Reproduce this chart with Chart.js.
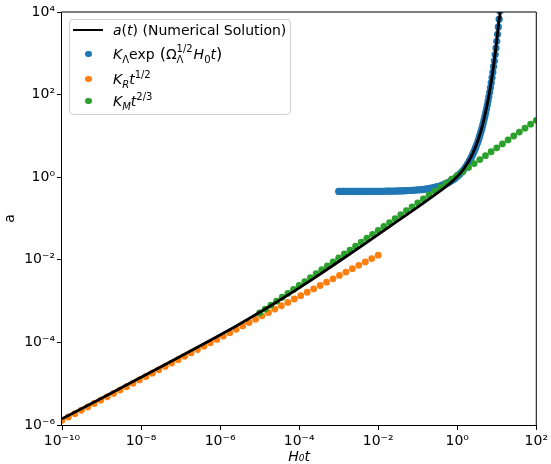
<!DOCTYPE html>
<html>
<head>
<meta charset="utf-8">
<script src="https://cdn.jsdelivr.net/npm/chart.js@4.4.1/dist/chart.umd.min.js"></script>
<style>
  html, body { margin: 0; padding: 0; background: #fff; }
  #wrap { position: relative; width: 551px; height: 464px; }
  #chart { position: absolute; left: 0; top: 0; }
  #legend {
    position: absolute; left: 69px; top: 19px; width: 222px; height: 96px;
    box-sizing: border-box; border: 1px solid #d0d0d0; border-radius: 4px;
    background: rgba(255, 255, 255, 0.8);
    font-family: "DejaVu Sans", sans-serif; font-size: 14px; color: #000;
  }
  .row { position: absolute; left: 43px; height: 20px; line-height: 20px; white-space: nowrap; }
  .dot { position: absolute; left: 15px; width: 6.6px; height: 6.6px; border-radius: 50%; }
  .sw { position: absolute; left: 3px; width: 30px; height: 2.8px; background: #000; }
  i { font-style: oblique; }
  .sb { font-size: 10px; position: relative; top: 4px; }
  .sp { font-size: 10px; position: relative; top: -6px; }
  .ss { display: inline-block; position: relative; width: 17px; height: 0; }
  .ss .a { position: absolute; left: 0; top: -16px; font-size: 10px; line-height: 12px; }
  .ss .b { position: absolute; left: 0; top: -5px; font-size: 10px; line-height: 12px; }
  .par { font-size: 16px; }
</style>
</head>
<body>
<div id="wrap">
  <canvas id="chart" width="551" height="464"></canvas>
  <div id="legend">
    <div class="sw" style="top: 8.6px;"></div>
    <div class="row" style="top: 0px;"><i>a</i>(<i>t</i>) (Numerical Solution)</div>
    <div class="dot" style="top: 30.7px; background: #1f77b4;"></div>
    <div class="row" style="top: 24px;"><i>K</i><span class="sb">Λ</span>exp<span class="par"> (</span>Ω<span class="ss"><span class="a">1/2</span><span class="b">Λ</span></span><i>H</i><span class="sb">0</span><i>t</i><span class="par">)</span></div>
    <div class="dot" style="top: 55.7px; background: #ff7f0e;"></div>
    <div class="row" style="top: 49px;"><i>K</i><span class="sb"><i>R</i></span><i>t</i><span class="sp">1/2</span></div>
    <div class="dot" style="top: 77.7px; background: #2ca02c;"></div>
    <div class="row" style="top: 71px;"><i>K</i><span class="sb"><i>M</i></span><i>t</i><span class="sp">2/3</span></div>
  </div>
</div>
<script>
// axis ticks
const xTicks = [1e-10, 1e-8, 1e-6, 1e-4, 1e-2, 1e0, 1e2];
const xTickLabels = ['10⁻¹⁰', '10⁻⁸', '10⁻⁶', '10⁻⁴', '10⁻²', '10⁰', '10²'];
const yTicks = [1e-6, 1e-4, 1e-2, 1e0, 1e2, 1e4];
const yTickLabels = ['10⁻⁶', '10⁻⁴', '10⁻²', '10⁰', '10²', '10⁴'];

// numerical solution a(t), as log10 values
const blackLogT = [-10, -9, -8.299, -7.3403, -6.2798, -5.6576, -5.2861, -4.8062, -4.4805, -4.125,
  -3.7058, -3.398, -2.949, -2.359, -1.9576, -1.5229, -1.301, -1, -0.699, -0.5229,
  -0.301, -0.1549, -0.0706, 0, 0.0969, 0.1761, 0.301, 0.3979, 0.4771, 0.5441,
  0.6021, 0.6532, 0.699, 0.7404, 0.7782, 0.8129, 0.8451, 0.8751, 0.9031, 0.9294,
  0.9542, 0.9777, 1.0, 1.0212, 1.0414, 1.0607, 1.0792];
const blackLogA = [-5.8495, -5.3495, -4.997, -4.5132, -3.9686, -3.6383, -3.4348, -3.1627, -2.9716, -2.757,
  -2.4965, -2.301, -2.011, -1.6243, -1.359, -1.0706, -0.9241, -0.7228, -0.5199, -0.3987,
  -0.2388, -0.1239, -0.0510, 0.0154, 0.1180, 0.2149, 0.4014, 0.5845, 0.7666, 0.9484,
  1.1300, 1.3117, 1.4934, 1.6751, 1.8568, 2.0385, 2.2202, 2.4018, 2.5835, 2.7652,
  2.9469, 3.1285, 3.3102, 3.4919, 3.6736, 3.8552, 4.0369];

// K_Lambda exp(...) points
const blueLogT = [-3.00, -2.95, -2.90, -2.85, -2.80, -2.75, -2.70, -2.65, -2.60, -2.55,
  -2.50, -2.45, -2.40, -2.35, -2.30, -2.25, -2.20, -2.15, -2.10, -2.05,
  -2.00, -1.95, -1.90, -1.85, -1.80, -1.75, -1.70, -1.65, -1.60, -1.55,
  -1.50, -1.45, -1.40, -1.35, -1.30, -1.25, -1.20, -1.15, -1.10, -1.05,
  -1.00, -0.95, -0.90, -0.85, -0.80, -0.75, -0.70, -0.65, -0.60, -0.55,
  -0.50, -0.46, -0.42, -0.38, -0.34, -0.30, -0.26, -0.22, -0.18, -0.14,
  -0.10, -0.06, -0.02, 0.02, 0.06, 0.10, 0.14, 0.18, 0.22, 0.26, 0.30,
  0.32, 0.34, 0.36, 0.38, 0.40, 0.42, 0.44, 0.46, 0.48, 0.50,
  0.52, 0.54, 0.56, 0.58, 0.60, 0.62, 0.64, 0.66, 0.68, 0.70,
  0.72, 0.74, 0.76, 0.78, 0.80, 0.82, 0.84, 0.86, 0.88, 0.90,
  0.92, 0.94, 0.96, 0.98, 1.00, 1.02, 1.04, 1.06, 1.08];
const blueLogA = [-0.3446, -0.3446, -0.3445, -0.3445, -0.3444, -0.3444, -0.3443, -0.3442, -0.3441, -0.3440,
  -0.3439, -0.3437, -0.3436, -0.3434, -0.3432, -0.3430, -0.3427, -0.3424, -0.3421, -0.3418,
  -0.3414, -0.3409, -0.3404, -0.3399, -0.3392, -0.3385, -0.3378, -0.3369, -0.3359, -0.3348,
  -0.3335, -0.3321, -0.3305, -0.3288, -0.3268, -0.3246, -0.3221, -0.3193, -0.3161, -0.3126,
  -0.3087, -0.3042, -0.2993, -0.2937, -0.2874, -0.2804, -0.2725, -0.2636, -0.2537, -0.2426,
  -0.2301, -0.2190, -0.2068, -0.1935, -0.1789, -0.1629, -0.1453, -0.1260, -0.1049, -0.0817,
  -0.0563, -0.0285, 0.0020, 0.0355, 0.0722, 0.1125, 0.1566, 0.2050, 0.2581, 0.3163, 0.3801,
  0.4143, 0.4500, 0.4875, 0.5267, 0.5678, 0.6108, 0.6559, 0.7031, 0.7525, 0.8042,
  0.8583, 0.9150, 0.9744, 1.0366, 1.1017, 1.1699, 1.2413, 1.3161, 1.3943, 1.4763,
  1.5621, 1.6520, 1.7461, 1.8447, 1.9479, 2.0560, 2.1691, 2.2876, 2.4117, 2.5416,
  2.6776, 2.8201, 2.9693, 3.1254, 3.2890, 3.4603, 3.6396, 3.8274, 4.0240];

// K_R t^(1/2) points
const orangeLogT = [-10, -9.8367, -9.6735, -9.5102, -9.3469, -9.1837, -9.0204, -8.8571, -8.6939, -8.5306,
  -8.3673, -8.2041, -8.0408, -7.8776, -7.7143, -7.5510, -7.3878, -7.2245, -7.0612, -6.8980,
  -6.7347, -6.5714, -6.4082, -6.2449, -6.0816, -5.9184, -5.7551, -5.5918, -5.4286, -5.2653,
  -5.1020, -4.9388, -4.7755, -4.6122, -4.4490, -4.2857, -4.1224, -3.9592, -3.7959, -3.6327,
  -3.4694, -3.3061, -3.1429, -2.9796, -2.8163, -2.6531, -2.4898, -2.3265, -2.1633, -2.0];
const orangeLogA = [-5.888, -5.8064, -5.7248, -5.6431, -5.5615, -5.4799, -5.3982, -5.3166, -5.2350, -5.1533,
  -5.0717, -4.9901, -4.9084, -4.8268, -4.7452, -4.6635, -4.5819, -4.5003, -4.4186, -4.3370,
  -4.2554, -4.1737, -4.0921, -4.0105, -3.9288, -3.8472, -3.7656, -3.6839, -3.6023, -3.5207,
  -3.4390, -3.3574, -3.2758, -3.1941, -3.1125, -3.0309, -2.9492, -2.8676, -2.7860, -2.7044,
  -2.6227, -2.5411, -2.4595, -2.3778, -2.2962, -2.2146, -2.1329, -2.0513, -1.9697, -1.888];

// K_M t^(2/3) points
const greenLogT = [-5.0, -4.8571, -4.7143, -4.5714, -4.4286, -4.2857, -4.1429, -4.0, -3.8571, -3.7143,
  -3.5714, -3.4286, -3.2857, -3.1429, -3.0, -2.8571, -2.7143, -2.5714, -2.4286, -2.2857,
  -2.1429, -2.0, -1.8571, -1.7143, -1.5714, -1.4286, -1.2857, -1.1429, -1.0, -0.8571,
  -0.7143, -0.5714, -0.4286, -0.2857, -0.1429, 0, 0.1429, 0.2857, 0.4286, 0.5714,
  0.7143, 0.8571, 1.0, 1.1429, 1.2857, 1.4286, 1.5714, 1.7143, 1.8571, 2.0];
const greenLogA = [-3.2883, -3.1931, -3.0978, -3.0026, -2.9073, -2.8121, -2.7169, -2.6216, -2.5264, -2.4312,
  -2.3359, -2.2407, -2.1454, -2.0502, -1.9550, -1.8597, -1.7645, -1.6693, -1.5740, -1.4788,
  -1.3835, -1.2883, -1.1931, -1.0978, -1.0026, -0.9074, -0.8121, -0.7169, -0.6216, -0.5264,
  -0.4312, -0.3359, -0.2407, -0.1455, -0.0502, 0.0450, 0.1402, 0.2355, 0.3307, 0.4260,
  0.5212, 0.6164, 0.7117, 0.8069, 0.9021, 0.9974, 1.0926, 1.1879, 1.2831, 1.3783];

const toPoints = (lt, la) => lt.map((v, i) => ({ x: Math.pow(10, v), y: Math.pow(10, la[i]) }));

const font = { family: 'DejaVu Sans', size: 14 };

const frame = {
  id: 'frame',
  afterDraw(chart) {
    const { ctx, chartArea: a } = chart;
    ctx.save();
    ctx.strokeStyle = '#000';
    ctx.lineWidth = 1;
    ctx.beginPath();
    ctx.moveTo(a.left - 0.5, a.top);
    ctx.lineTo(a.right, a.top);
    ctx.lineTo(a.right, a.bottom + 0.5);
    ctx.lineTo(a.left - 0.5, a.bottom + 0.5);
    ctx.closePath();
    ctx.stroke();
    ctx.restore();
  }
};

const ctx = document.getElementById('chart').getContext('2d');
new Chart(ctx, {
  type: 'scatter',
  data: {
    datasets: [
      { label: 'a(t) (Numerical Solution)', data: toPoints(blackLogT, blackLogA), showLine: true,
        borderColor: '#000', borderWidth: 2.8, pointRadius: 0, order: 0, clip: 0 },
      { label: 'K_Λ exp(Ω_Λ^1/2 H_0 t)', data: toPoints(blueLogT, blueLogA),
        backgroundColor: '#1f77b4', borderWidth: 0, pointRadius: 3.6, order: 3, clip: 0 },
      { label: 'K_R t^1/2', data: toPoints(orangeLogT, orangeLogA),
        backgroundColor: '#ff7f0e', borderWidth: 0, pointRadius: 3.4, order: 2, clip: 0 },
      { label: 'K_M t^2/3', data: toPoints(greenLogT, greenLogA),
        backgroundColor: '#2ca02c', borderWidth: 0, pointRadius: 3.4, order: 1, clip: 0 }
    ]
  },
  options: {
    responsive: false,
    animation: false,
    layout: { padding: { left: 0, right: 11, top: 12, bottom: 0 } },
    plugins: { legend: { display: false }, tooltip: { enabled: false } },
    scales: {
      x: {
        type: 'logarithmic', min: 1e-10, max: 1e2,
        afterBuildTicks: s => { s.ticks = xTicks.map(v => ({ value: v })); },
        afterFit: s => { s.height = 39; },
        ticks: { callback: (v, i) => xTickLabels[i], color: '#000', font, padding: 3, autoSkip: false, maxRotation: 0 },
        grid: { display: true, drawOnChartArea: false, drawTicks: true, tickLength: 5, color: '#000' },
        border: { display: false },
        title: { display: true, text: 'H₀t', color: '#000', font: { family: 'DejaVu Sans', size: 14, style: 'italic' }, padding: { top: 0, bottom: -2 } }
      },
      y: {
        type: 'logarithmic', min: 1e-6, max: 1e4,
        afterBuildTicks: s => { s.ticks = yTicks.map(v => ({ value: v })); },
        afterFit: s => { s.width = 62; },
        ticks: { callback: (v, i) => yTickLabels[i], color: '#000', font, padding: 2, autoSkip: false },
        grid: { display: true, drawOnChartArea: false, drawTicks: true, tickLength: 5, color: '#000' },
        border: { display: false },
        title: { display: true, text: 'a', color: '#000', font, padding: { top: 2, bottom: 0 } }
      }
    }
  },
  plugins: [frame]
});
</script>
</body>
</html>
